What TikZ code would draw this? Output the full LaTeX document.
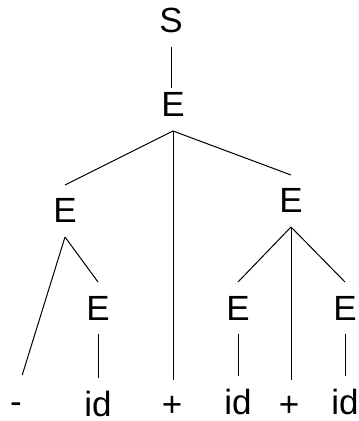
\documentclass[tikz,border=0pt]{standalone}
\usepackage{fontspec}
\setmainfont{Liberation Sans}
\usetikzlibrary{positioning}

\begin{document}
\begin{tikzpicture}[x=0.5pt,y=-0.5pt,
  sym/.style={inner sep=0pt,outer ysep=7pt,text height=12pt,text depth=0pt,
    anchor=base,font=\fontsize{17.5}{21}\selectfont},
  op/.style={sym,outer ysep=6pt},
  edge/.style={line width=0.5pt}]
  \useasboundingbox (0,0) rectangle (358,421);

  % Nodi interni
  \node[sym] (S) at (171,33) {S};
  \node[sym] (E) at (173,117) {E};
  \node[sym] (El) at (65,223) {E};
  \node[sym] (Er) at (291,213) {E};
  \node[sym] (Elr) at (98,320) {E};
  \node[sym] (Erl) at (238,320) {E};
  \node[sym] (Err) at (345,320) {E};

  % Foglie
  \node[sym] (minus) at (16,413) {-};
  \node[sym] (idl) at (98,416) {id};
  \node[op] (plus) at (172,416) {+};
  \node[sym] (idrl) at (238,414) {id};
  \node[op] (plusr) at (289,416) {+};
  \node[sym] (idrr) at (345,414) {id};

  % Archi
  \draw[edge,shorten >=-4.5pt] (S.south) -- (S.south |- E.north);
  \draw[edge] (E.south) -- (El.north);
  \draw[edge] (E.south) -- (E.south |- plus.north);
  \draw[edge] (E.south) -- (Er.north);
  \draw[edge] (El.south) -- (minus.north east);
  \draw[edge] (El.south) -- (Elr.north);
  \draw[edge] (Elr.south) -- (idl.north);
  \draw[edge] (Er.south) -- (Erl.north);
  \draw[edge] (Er.south) -- (Er.south |- plusr.north);
  \draw[edge] (Er.south) -- (Err.north);
  \draw[edge] (Erl.south) -- (idrl.north);
  \draw[edge] (Err.south) -- (idrr.north);
\end{tikzpicture}
\end{document}
